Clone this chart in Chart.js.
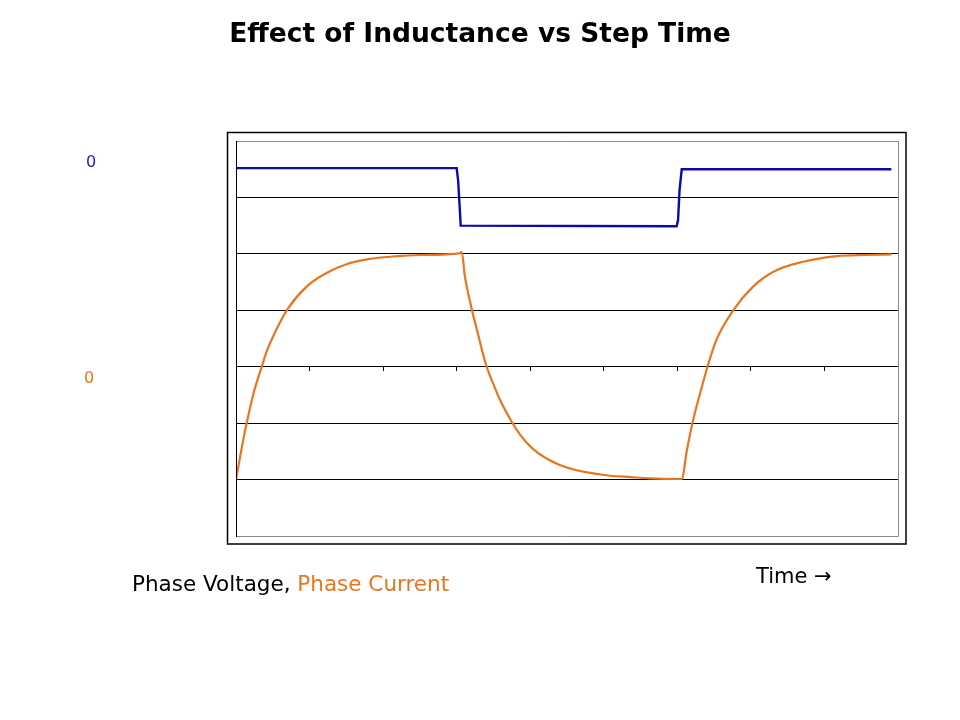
<!DOCTYPE html>
<html>
<head>
<meta charset="utf-8">
<script src="https://cdn.jsdelivr.net/npm/chart.js@4.4.0/dist/chart.umd.min.js"></script>
<style>
  html, body { margin: 0; padding: 0; background: #ffffff; }
  #wrap { width: 960px; height: 720px; position: relative; }
</style>
</head>
<body>
<div id="wrap"><canvas id="c" width="960" height="720"></canvas></div>
<script>
// ---- Data ----
const titleText = "Effect of Inductance vs Step Time";
const xTicks = [0, 1, 2, 3, 4, 5, 6, 7, 8, 9];
const yTicks = [0, 1, 2, 3, 4, 5, 6, 7];

// Phase Voltage (blue) : time, level
const voltageX = [0.00, 3.00, 3.02, 3.04, 3.055, 5.99, 6.01, 6.03, 6.06, 8.91];
const voltageY = [6.52, 6.52, 6.30, 5.85, 5.50, 5.49, 5.60, 6.13, 6.50, 6.50];

// Phase Current (orange) : time, level
const currentX = [0.00, 0.12, 0.145, 0.245, 0.35, 0.42, 0.60, 0.71, 0.96, 1.23, 1.51, 1.82, 2.19, 2.50, 3.04, 3.07,
                  3.11, 3.20, 3.27, 3.40, 3.50, 3.59, 3.75, 3.86, 4.04, 4.40, 4.95, 5.40, 5.63, 6.06,
                  6.13, 6.21, 6.31, 6.41, 6.53, 6.76, 7.03, 7.30, 7.71, 8.17, 8.57, 8.91];
const currentY = [1.00, 1.85, 2.00, 2.56, 3.00, 3.28, 3.79, 4.04, 4.42, 4.66, 4.82, 4.91, 4.96, 4.98, 5.01, 5.03,
                  4.62, 4.05, 3.68, 3.03, 2.69, 2.41, 2.02, 1.80, 1.54, 1.26, 1.09, 1.04, 1.02, 1.01,
                  1.52, 2.03, 2.53, 3.00, 3.47, 4.00, 4.42, 4.68, 4.86, 4.96, 4.98, 4.99];

const xAxisCrossing = 3;

const BLUE = '#0a0aa6';
const ORANGE = '#e8761e';

const pts = (xs, ys) => xs.map((x, i) => ({ x: x, y: ys[i] }));

const decor = {
  id: 'decor',
  beforeDraw(chart) {
    const ctx = chart.ctx, a = chart.chartArea;
    ctx.save();
    ctx.fillStyle = '#ffffff';
    ctx.fillRect(0, 0, chart.width, chart.height);
    // outer frame
    ctx.strokeStyle = '#000000';
    ctx.lineWidth = 1.5;
    ctx.strokeRect(a.left - 8.5, a.top - 8.5, (a.right - a.left) + 16.5, (a.bottom - a.top) + 16.5);
    ctx.restore();
  },
  afterDraw(chart) {
    const ctx = chart.ctx, a = chart.chartArea;
    ctx.save();
    // inner frame: gray top/right/bottom, black left
    ctx.strokeStyle = '#8c8c8c';
    ctx.lineWidth = 1;
    ctx.beginPath();
    ctx.moveTo(a.left, a.top + 0.5); ctx.lineTo(a.right + 0.5, a.top + 0.5);
    ctx.lineTo(a.right + 0.5, a.bottom + 0.5); ctx.lineTo(a.left, a.bottom + 0.5);
    ctx.stroke();
    ctx.strokeStyle = '#000000';
    ctx.beginPath();
    ctx.moveTo(a.left + 0.5, a.top); ctx.lineTo(a.left + 0.5, a.bottom + 1);
    ctx.stroke();

    // title
    ctx.fillStyle = '#000000';
    ctx.font = 'bold 26.5px "DejaVu Sans", Verdana, sans-serif';
    ctx.textAlign = 'center';
    ctx.textBaseline = 'alphabetic';
    ctx.fillText(titleText, 480, 42);

    // signal zero labels
    ctx.font = '16px "DejaVu Sans", Verdana, sans-serif';
    ctx.textAlign = 'center';
    ctx.fillStyle = '#1a1ad0';
    ctx.fillText('0', 91, 167);
    ctx.fillStyle = ORANGE;
    ctx.fillText('0', 89, 383);

    // legend text
    ctx.font = '21.5px "DejaVu Sans", Verdana, sans-serif';
    ctx.textAlign = 'left';
    ctx.fillStyle = '#000000';
    const part1 = 'Phase Voltage, ';
    ctx.fillText(part1, 132, 591);
    const w1 = ctx.measureText(part1).width;
    ctx.fillStyle = ORANGE;
    ctx.fillText('Phase Current', 132 + w1, 591);

    ctx.fillStyle = '#000000';
    ctx.font = '21px "DejaVu Sans", Verdana, sans-serif';
    ctx.fillText('Time \u2192', 756, 583);
    ctx.restore();
  }
};

new Chart(document.getElementById('c'), {
  type: 'line',
  data: {
    datasets: [
      { label: 'Phase Voltage', data: pts(voltageX, voltageY), borderColor: BLUE, borderWidth: 2.4,
        pointRadius: 0, tension: 0, fill: false },
      { label: 'Phase Current', data: pts(currentX, currentY), borderColor: ORANGE, borderWidth: 2.2,
        pointRadius: 0, cubicInterpolationMode: 'monotone', fill: false }
    ]
  },
  options: {
    responsive: false,
    animation: false,
    devicePixelRatio: 1,
    layout: { padding: { left: 236, right: 62, top: 141, bottom: 184 } },
    plugins: { legend: { display: false }, title: { display: false }, tooltip: { enabled: false } },
    scales: {
      x: {
        type: 'linear',
        min: xTicks[0], max: xTicks[xTicks.length - 1],
        position: { y: xAxisCrossing },
        afterFit(scale) { scale.height = 0; },
        afterBuildTicks(scale) { scale.ticks = xTicks.map(v => ({ value: v })); },
        ticks: { display: false },
        grid: { drawOnChartArea: false, drawTicks: true, tickLength: 4, color: '#000000', lineWidth: 1 },
        border: { display: true, color: '#000000', width: 1 }
      },
      y: {
        type: 'linear',
        min: yTicks[0], max: yTicks[yTicks.length - 1],
        afterFit(scale) { scale.width = 0; },
        afterBuildTicks(scale) { scale.ticks = yTicks.map(v => ({ value: v })); },
        ticks: { display: false },
        grid: {
          drawTicks: false,
          color: (c) => (c.tick && (c.tick.value === yTicks[0] || c.tick.value === yTicks[yTicks.length - 1])) ? 'rgba(0,0,0,0)' : '#000000',
          lineWidth: 1
        },
        border: { display: false }
      }
    }
  },
  plugins: [decor]
});
</script>
</body>
</html>
